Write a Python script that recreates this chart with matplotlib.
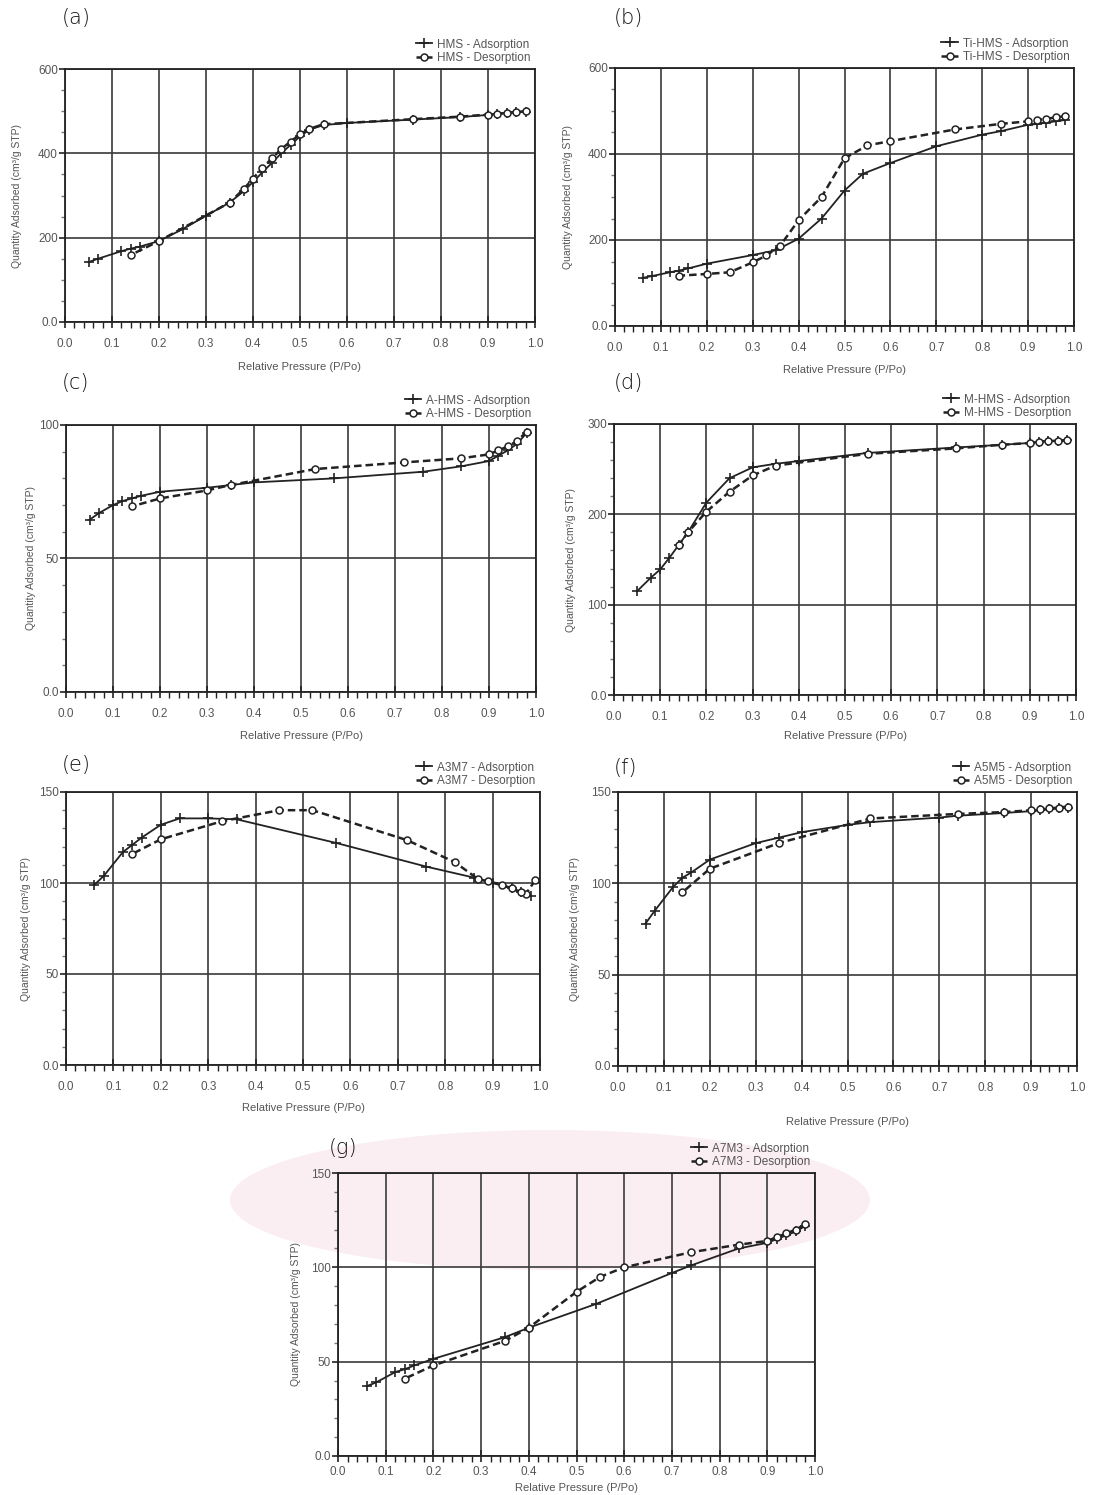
import matplotlib
matplotlib.use('Agg')
import matplotlib.pyplot as plt
from matplotlib.ticker import MultipleLocator, FuncFormatter
from matplotlib.patches import Ellipse

plt.rcParams['font.family'] = ['Liberation Sans', 'DejaVu Sans']

W, H = 1106, 1495

# (a) HMS
hms_ads_p = [0.05, 0.07, 0.12, 0.14, 0.16, 0.20, 0.25, 0.30, 0.35, 0.38, 0.40, 0.42, 0.44, 0.46,
             0.48, 0.50, 0.52, 0.55, 0.60, 0.74, 0.84, 0.90, 0.92, 0.94, 0.96, 0.98]
hms_ads_q = [142, 150, 168, 174, 179, 192, 220, 252, 283, 310, 332, 355, 377, 400,
             420, 440, 456, 467, 472, 480, 486, 491, 493, 495, 497, 499]
hms_des_p = [0.98, 0.96, 0.94, 0.92, 0.90, 0.84, 0.74, 0.55, 0.52, 0.50, 0.48, 0.46, 0.44, 0.42,
             0.40, 0.38, 0.35, 0.20, 0.14]
hms_des_q = [500, 498, 496, 494, 492, 487, 481, 469, 458, 445, 428, 410, 388, 365,
             340, 315, 283, 192, 159]

# (b) Ti-HMS
tihms_ads_p = [0.06, 0.08, 0.12, 0.14, 0.16, 0.20, 0.30, 0.35, 0.40, 0.45, 0.50, 0.54, 0.60, 0.70,
               0.80, 0.84, 0.90, 0.92, 0.94, 0.96, 0.98]
tihms_ads_q = [112, 116, 125, 129, 134, 145, 165, 176, 203, 250, 315, 354, 379, 418,
               445, 453, 468, 470, 473, 476, 479]
tihms_des_p = [0.98, 0.96, 0.94, 0.92, 0.90, 0.84, 0.74, 0.60, 0.55, 0.50, 0.45, 0.40, 0.36, 0.33,
               0.30, 0.25, 0.20, 0.14]
tihms_des_q = [488, 485, 482, 479, 476, 470, 457, 430, 420, 390, 300, 246, 187, 164,
               148, 125, 121, 117]

# (c) A-HMS
ahms_ads_p = [0.05, 0.07, 0.10, 0.12, 0.14, 0.16, 0.20, 0.30, 0.35, 0.40, 0.57, 0.76, 0.84, 0.90,
              0.92, 0.94, 0.96, 0.98]
ahms_ads_q = [64.5, 67, 70, 71.5, 72.5, 73.5, 75, 76.5, 77.5, 78.5, 80, 82.5, 84.5, 86.5,
              88.5, 90.5, 93, 97]
ahms_des_p = [0.98, 0.96, 0.94, 0.92, 0.90, 0.84, 0.72, 0.53, 0.35, 0.30, 0.20, 0.14]
ahms_des_q = [97.5, 94, 92, 90.5, 89, 87.5, 86, 83.5, 77.5, 75.5, 72.5, 69.5]

# (d) M-HMS
mhms_ads_p = [0.05, 0.08, 0.10, 0.12, 0.14, 0.16, 0.20, 0.25, 0.30, 0.35, 0.40, 0.55, 0.74, 0.84,
              0.90, 0.92, 0.94, 0.96, 0.98]
mhms_ads_q = [115, 130, 139, 152, 166, 180, 213, 240, 252, 256, 259, 268, 274, 277,
              279, 280, 281, 281.5, 282]
mhms_des_p = [0.98, 0.96, 0.94, 0.92, 0.90, 0.84, 0.74, 0.55, 0.35, 0.30, 0.25, 0.20, 0.16, 0.14]
mhms_des_q = [282, 281.5, 281, 280, 279, 277, 273, 267, 254, 243, 225, 203, 180, 166]

# (e) A3M7
a3m7_ads_p = [0.06, 0.08, 0.12, 0.14, 0.16, 0.20, 0.24, 0.30, 0.36, 0.57, 0.76, 0.86, 0.90, 0.94,
              0.96, 0.98]
a3m7_ads_q = [99, 104, 117, 121, 125, 132, 135.5, 135.5, 135, 122, 109, 103, 100, 97,
              95, 93]
a3m7_des_p = [0.99, 0.97, 0.96, 0.94, 0.92, 0.89, 0.87, 0.82, 0.72, 0.52, 0.45, 0.33, 0.20, 0.14]
a3m7_des_q = [101.5, 94, 95, 97, 99, 101, 102, 111.5, 123.5, 140, 140, 134, 124, 116]

# (f) A5M5
a5m5_ads_p = [0.06, 0.08, 0.12, 0.14, 0.16, 0.20, 0.30, 0.35, 0.40, 0.50, 0.55, 0.70, 0.74, 0.84,
              0.90, 0.92, 0.94, 0.96, 0.98]
a5m5_ads_q = [78, 85, 98, 103, 106, 113, 122, 125, 128, 132, 133.5, 136, 137, 138.5,
              139.5, 140, 140.5, 141, 141.5]
a5m5_des_p = [0.98, 0.96, 0.94, 0.92, 0.90, 0.84, 0.74, 0.55, 0.35, 0.20, 0.14]
a5m5_des_q = [142, 141.5, 141, 140.5, 140, 139, 138, 135.5, 122, 108, 95]

# (g) A7M3
a7m3_ads_p = [0.06, 0.08, 0.12, 0.14, 0.16, 0.20, 0.35, 0.40, 0.54, 0.70, 0.74, 0.84, 0.90, 0.92,
              0.94, 0.96, 0.98]
a7m3_ads_q = [37, 39, 44.5, 46, 48, 51.5, 63, 68, 80.5, 97, 101, 110, 113, 115,
              117, 119, 122]
a7m3_des_p = [0.98, 0.96, 0.94, 0.92, 0.90, 0.84, 0.74, 0.60, 0.55, 0.50, 0.40, 0.35, 0.20, 0.14]
a7m3_des_q = [123, 120, 118, 116, 114, 112, 108, 100, 95, 87, 68, 61, 48, 41]

x_ticks = [0.0, 0.1, 0.2, 0.3, 0.4, 0.5, 0.6, 0.7, 0.8, 0.9, 1.0]

# name, tag, ads, des, ymax, ymajor, yminor, axes box (left, right, top, bottom px),
# xlabel y px, ylabel x px, tag position px, x tick label pad
panels = [
    ('HMS', '(a)', (hms_ads_p, hms_ads_q), (hms_des_p, hms_des_q), 600, 200, 50,
     (65, 535, 69, 322), 367, 17, (62, 18), 7),
    ('Ti-HMS', '(b)', (tihms_ads_p, tihms_ads_q), (tihms_des_p, tihms_des_q), 600, 200, 50,
     (615, 1074, 68, 326), 370, 568, (614, 18), 7),
    ('A-HMS', '(c)', (ahms_ads_p, ahms_ads_q), (ahms_des_p, ahms_des_q), 100, 50, 10,
     (66, 536, 425, 692), 736, 31, (62, 383), 7),
    ('M-HMS', '(d)', (mhms_ads_p, mhms_ads_q), (mhms_des_p, mhms_des_q), 300, 100, 20,
     (614, 1076, 424, 695), 736, 571, (614, 383), 7),
    ('A3M7', '(e)', (a3m7_ads_p, a3m7_ads_q), (a3m7_des_p, a3m7_des_q), 150, 50, 10,
     (66, 540, 792, 1065), 1108, 26, (62, 765), 7),
    ('A5M5', '(f)', (a5m5_ads_p, a5m5_ads_q), (a5m5_des_p, a5m5_des_q), 150, 50, 10,
     (618, 1077, 792, 1066), 1122, 575, (614, 768), 7),
    ('A7M3', '(g)', (a7m3_ads_p, a7m3_ads_q), (a7m3_des_p, a7m3_des_q), 150, 50, 10,
     (338, 815, 1173, 1456), 1488, 296, (329, 1148), 3),
]

ink = '#222222'
txt = '#555555'


def ylab(v, pos):
    return '0.0' if v == 0 else '%d' % v


fig = plt.figure(figsize=(W / 100, H / 100), dpi=100)

# pale pink patch behind the last panel
fig.patches.append(Ellipse((550 / W, 1 - 1200 / H), 640 / W, 140 / H, transform=fig.transFigure,
                           facecolor='#faeef3', edgecolor='none', zorder=-1))

for name, tag, ads, des, ymax, ymaj, ymin, box, xly, ylx, tagpos, xpad in panels:
    l, r, t, b = box
    ax = fig.add_axes([l / W, 1 - b / H, (r - l) / W, (b - t) / H])
    ax.patch.set_alpha(0)
    ax.set_xlim(0, 1)
    ax.set_ylim(0, ymax)
    ax.set_xticks(x_ticks)
    ax.set_xticklabels(['%.1f' % v for v in x_ticks])
    ax.xaxis.set_minor_locator(MultipleLocator(0.02))
    ax.yaxis.set_major_locator(MultipleLocator(ymaj))
    ax.yaxis.set_minor_locator(MultipleLocator(ymin))
    ax.yaxis.set_major_formatter(FuncFormatter(ylab))
    ax.grid(True, which='major', color='#3a3a3a', linewidth=1.2)
    ax.tick_params(axis='x', which='major', direction='inout', length=9, width=1.2,
                   color=ink, labelsize=8.5, labelcolor=txt, pad=xpad)
    ax.tick_params(axis='x', which='minor', direction='out', length=4, width=1.0, color=ink)
    ax.tick_params(axis='y', which='major', direction='out', length=4, width=1.2,
                   color=ink, labelsize=8.5, labelcolor=txt, pad=1)
    ax.tick_params(axis='y', which='minor', direction='out', length=3, width=1.0, color='#777777')
    for s in ax.spines.values():
        s.set_color(ink)
        s.set_linewidth(1.3)

    ax.plot(ads[0], ads[1], color=ink, linewidth=1.3, marker='+', markersize=6.5,
            markeredgewidth=1.2, label=name + ' - Adsorption')
    ax.plot(des[0], des[1], color=ink, linewidth=1.8, linestyle=(0, (3, 1.6)), marker='o',
            markersize=5, markerfacecolor='white', markeredgewidth=1.1,
            label=name + ' - Desorption')
    ax.legend(loc='lower right', bbox_to_anchor=(1.0, 1.0), frameon=False, fontsize=8.5,
              handlelength=1.4, handletextpad=0.4, labelspacing=0.15, borderaxespad=0.3,
              borderpad=0.1, labelcolor=txt)

    fig.text((l + r) / 2 / W, 1 - xly / H, 'Relative Pressure (P/Po)', fontsize=8,
             color=txt, ha='center', va='center')
    fig.text(ylx / W, 1 - (t + b) / 2 / H, 'Quantity Adsorbed (cm³/g STP)', fontsize=7.5,
             color=txt, ha='center', va='center', rotation=90)
    fig.text(tagpos[0] / W, 1 - tagpos[1] / H, tag, fontsize=15, color='#111111',
             ha='left', va='center', family=['DejaVu Sans'], fontweight='light')

fig.savefig('out.png', dpi=100)
